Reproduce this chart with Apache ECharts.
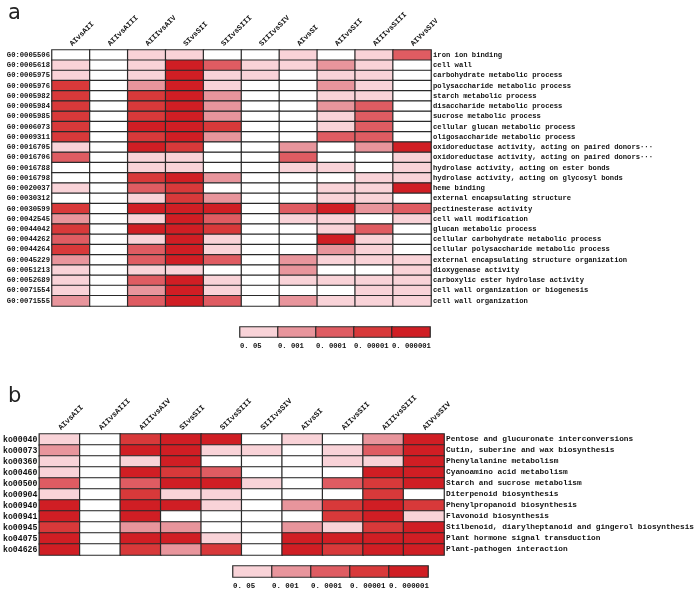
<!DOCTYPE html>
<html><head><meta charset="utf-8">
<script src="https://cdn.jsdelivr.net/npm/echarts@6/dist/echarts.min.js"></script>
<style>html,body{margin:0;padding:0;background:#fff}#c{width:697px;height:600px}</style>
</head><body><div id="c"></div>
<script>
const colLabels = ['AIvsAII','AIIvsAIII','AIIIvsAIV','SIvsSII','SIIvsSIII','SIIIvsSIV','AIvsSI','AIIvsSII','AIIIvsSIII','AIVvsSIV'];
const goIds = ['G0:0005506','G0:0005618','G0:0005975','G0:0005976','G0:0005982','G0:0005984','G0:0005985','G0:0006073','G0:0009311','G0:0016705','G0:0016706','G0:0016788','G0:0016798','G0:0020037','G0:0030312','G0:0030599','G0:0042545','G0:0044042','G0:0044262','G0:0044264','G0:0045229','G0:0051213','G0:0052689','G0:0071554','G0:0071555'];
const goTerms = ['iron ion binding','cell wall','carbohydrate metabolic process','polysaccharide metabolic process','starch metabolic process','disaccharide metabolic process','sucrose metabolic process','cellular glucan metabolic process','oligosaccharide metabolic process','oxidoreductase activity, acting on paired donors\u00b7\u00b7\u00b7','oxidoreductase activity, acting on paired donors\u00b7\u00b7\u00b7','hydrolase activity, acting on ester bonds','hydrolase activity, acting on glycosyl bonds','heme binding','external encapsulating structure','pectinesterase activity','cell wall modification','glucan metabolic process','cellular carbohydrate metabolic process','cellular polysaccharide metabolic process','external encapsulating structure organization','dioxygenase activity','carboxylic ester hydrolase activity','cell wall organization or biogenesis','cell wall organization'];
// significance level per cell: 0 = not significant, 1..5 = p<0.05 .. p<0.000001
const goLevels = [
  [0,0,1,1,0,0,1,0,1,3],
  [1,0,1,5,3,1,1,2,1,0],
  [1,0,1,5,1,1,0,1,1,0],
  [4,0,2,5,1,0,0,2,1,0],
  [4,0,4,5,2,0,0,1,1,0],
  [4,0,4,5,2,0,0,2,3,0],
  [4,0,4,5,2,0,0,1,3,0],
  [4,0,5,5,4,0,0,1,3,0],
  [4,0,4,5,2,0,0,3,3,0],
  [1,0,5,4,0,0,2,0,2,5],
  [3,0,1,1,0,0,3,0,0,1],
  [0,0,1,1,0,0,1,1,0,1],
  [0,0,4,5,2,0,0,0,1,1],
  [1,0,3,4,0,0,0,1,1,5],
  [0,0,1,4,2,0,0,1,1,0],
  [4,0,5,5,5,0,3,5,2,3],
  [2,0,1,5,3,0,1,1,0,1],
  [4,0,5,5,4,0,0,1,3,0],
  [3,0,1,5,1,0,0,5,1,0],
  [4,0,3,5,1,0,0,2,1,0],
  [2,0,3,5,3,0,2,1,1,1],
  [1,0,1,1,0,0,2,0,0,1],
  [1,0,3,5,1,0,1,1,1,1],
  [1,0,2,5,1,0,0,0,1,1],
  [2,0,3,5,3,0,2,1,1,1]
];
const koIds = ['ko00040','ko00073','ko00360','ko00460','ko00500','ko00904','ko00940','ko00941','ko00945','ko04075','ko04626'];
const koTerms = ['Pentose and glucuronate interconversions','Cutin, suberine and wax biosynthesis','Phenylalanine metabolism','Cyanoamino acid metabolism','Starch and sucrose metabolism','Diterpenoid biosynthesis','Phenylpropanoid biosynthesis','Flavonoid biosynthesis','Stilbenoid, diarylheptanoid and gingerol biosynthesis','Plant hormone signal transduction','Plant-pathogen interaction'];
const koLevels = [
  [1,0,4,5,5,0,1,0,2,5],
  [2,0,5,5,1,1,0,1,3,5],
  [1,0,1,5,0,0,0,1,1,5],
  [1,0,5,4,3,0,0,0,5,5],
  [3,0,3,5,5,1,0,3,4,5],
  [1,0,4,1,1,0,0,0,4,0],
  [5,0,5,5,1,0,2,4,5,4],
  [5,0,5,0,0,0,0,4,5,1],
  [4,0,2,2,0,0,2,1,4,5],
  [5,0,5,5,1,0,5,5,5,5],
  [5,0,4,2,4,0,5,4,5,5]
];
const legendLevels = [1,2,3,4,5];
const legendLabels = ['0. 05','0. 001','0. 0001','0. 00001','0. 000001'];
const levelColors = ['#ffffff','#f9d3d8','#e8959c','#df5c62','#d8393a','#d01e24'];

const toCells = m => { const d=[]; m.forEach((row,r)=>row.forEach((v,c)=>d.push([c,r,v]))); return d; };
const FONT = 'Liberation Mono';
const lab = (size) => ({fontFamily: FONT, fontWeight: 'bold', fontSize: size, color: '#111'});

const grids = [
  {left:52, top:50, width:379, height:256},
  {left:240, top:327, width:190, height:10},
  {left:39, top:434, width:409, height:121},
  {left:233, top:566, width:195, height:11}
];
const hideAxis = {axisLine:{show:false}, axisTick:{show:false}, splitLine:{show:false}};

const xAxis = [
  Object.assign({type:'category', gridIndex:0, position:'top', data:colLabels,
    axisLabel:Object.assign({rotate:-45, margin:5, interval:0}, lab(7.4))}, hideAxis),
  Object.assign({type:'category', gridIndex:1, data:legendLevels, axisLabel:{show:false}}, hideAxis),
  Object.assign({type:'value', gridIndex:1, min:0, max:5, interval:1, position:'bottom',
    axisLabel:Object.assign({align:'left', margin:6, showMaxLabel:false, formatter:v=>legendLabels[v]||''}, lab(7.2))}, hideAxis),
  Object.assign({type:'category', gridIndex:2, position:'top', data:colLabels,
    axisLabel:Object.assign({rotate:-45, margin:5, interval:0}, lab(7.6))}, hideAxis),
  Object.assign({type:'category', gridIndex:3, data:legendLevels, axisLabel:{show:false}}, hideAxis),
  Object.assign({type:'value', gridIndex:3, min:0, max:5, interval:1, position:'bottom',
    axisLabel:Object.assign({align:'left', margin:6, showMaxLabel:false, formatter:v=>legendLabels[v]||''}, lab(7.4))}, hideAxis)
];
const yAxis = [
  Object.assign({type:'category', gridIndex:0, inverse:true, position:'left', data:goIds,
    axisLabel:Object.assign({margin:2, interval:0}, lab(7.2))}, hideAxis),
  Object.assign({type:'category', gridIndex:0, inverse:true, position:'right', data:goTerms,
    axisLabel:Object.assign({margin:2, interval:0}, lab(7.2))}, hideAxis),
  Object.assign({type:'category', gridIndex:1, data:['l'], axisLabel:{show:false}}, hideAxis),
  Object.assign({type:'category', gridIndex:2, inverse:true, position:'left', data:koIds,
    axisLabel:Object.assign({margin:2, interval:0}, lab(8.2))}, hideAxis),
  Object.assign({type:'category', gridIndex:2, inverse:true, position:'right', data:koTerms,
    axisLabel:Object.assign({margin:2, interval:0}, lab(7.8))}, hideAxis),
  Object.assign({type:'category', gridIndex:3, data:['l'], axisLabel:{show:false}}, hideAxis)
];
const cellStyle = {borderColor:'#2a2a2a', borderWidth:1.2};
const series = [
  {type:'heatmap', xAxisIndex:0, yAxisIndex:0, data:toCells(goLevels), itemStyle:cellStyle, emphasis:{disabled:true}},
  {type:'heatmap', xAxisIndex:1, yAxisIndex:2, data:legendLevels.map((v,i)=>[i,0,v]), itemStyle:cellStyle, emphasis:{disabled:true}},
  {type:'heatmap', xAxisIndex:3, yAxisIndex:3, data:toCells(koLevels), itemStyle:cellStyle, emphasis:{disabled:true}},
  {type:'heatmap', xAxisIndex:4, yAxisIndex:5, data:legendLevels.map((v,i)=>[i,0,v]), itemStyle:cellStyle, emphasis:{disabled:true}}
];
const chart = echarts.init(document.getElementById('c'), null, {renderer:'canvas'});
chart.setOption({
  animation:false,
  backgroundColor:'#fff',
  title:[
    {text:'a', left:3, top:-2, textStyle:{fontFamily:'DejaVu Sans', fontWeight:'normal', fontSize:21, color:'#222'}},
    {text:'b', left:3, top:381, textStyle:{fontFamily:'DejaVu Sans', fontWeight:'normal', fontSize:21, color:'#222'}}
  ],
  grid:grids, xAxis, yAxis,
  visualMap:{type:'piecewise', show:false, seriesIndex:[0,1,2,3], dimension:2,
    pieces:levelColors.map((c,i)=>({value:i, color:c}))},
  series
});
</script></body></html>
